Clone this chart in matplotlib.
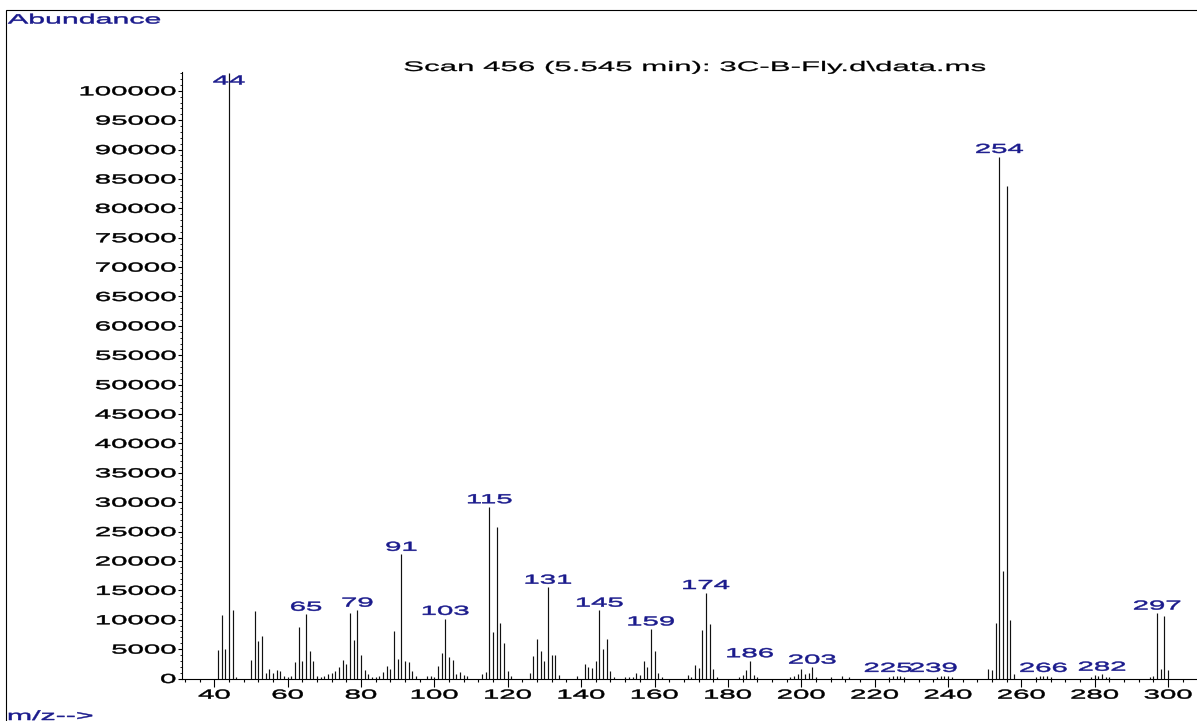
import matplotlib
matplotlib.use("Agg")
import matplotlib.pyplot as plt
import matplotlib.patheffects as pe
from matplotlib.patches import Rectangle
from matplotlib.ticker import MultipleLocator
from matplotlib.transforms import Affine2D

# спектр: m/z и интенсивности
mz = [41, 42, 43, 44, 45, 46,
      50, 51, 52, 53, 54, 55, 56, 57, 58, 59, 60, 61, 62, 63, 64, 65, 66, 67, 68, 69,
      70, 71, 72, 73, 74, 75, 76, 77, 78, 79, 80, 81, 82, 83,
      84, 85, 86, 87, 88, 89, 90, 91, 92, 93, 94, 95,
      98, 99, 100, 101, 102, 103, 104, 105, 106, 107, 108, 109,
      113, 114, 115, 116, 117, 118, 119, 120, 121,
      126, 127, 128, 129, 130, 131, 132, 133, 134,
      139, 141, 142, 143, 144, 145, 146, 147, 148, 149,
      152, 153, 154, 155, 156, 157, 158, 159, 160, 161, 162,
      169, 170, 171, 172, 173, 174, 175, 176, 177,
      183, 184, 185, 186, 187, 188,
      197, 198, 199, 200, 201, 202, 203, 204, 208, 211, 213,
      224, 225, 226, 227, 228,
      237, 238, 239, 240, 241,
      251, 252, 253, 254, 255, 256, 257, 258,
      264, 265, 266, 267, 268,
      279, 280, 281, 282, 283, 284,
      295, 296, 297, 298, 299, 300]
abundance = [4800, 10800, 5000, 103000, 11600, 200,
             3100, 11500, 6300, 7200, 1000, 1700, 900, 1400, 1300, 500, 300, 400, 2800, 8700, 3000, 10900, 4700, 3000, 500, 300,
             400, 800, 900, 1200, 2000, 3100, 2500, 11200, 6500, 11600, 4000, 1400, 700, 300,
             200, 500, 1100, 2100, 1600, 8000, 3400, 21100, 3000, 2750, 1300, 500,
             400, 400, 300, 2100, 4300, 10200, 3700, 3100, 800, 1100, 600, 500,
             800, 1100, 29200, 7900, 25800, 9400, 6000, 1300, 400,
             1000, 3800, 6800, 4600, 2900, 15500, 4000, 4000, 600,
             400, 2400, 2000, 1800, 3000, 11600, 5000, 6700, 1200, 300,
             200, 300, 300, 900, 600, 3000, 2000, 8400, 4600, 1000, 200,
             600, 200, 2300, 1800, 8200, 14600, 9300, 1700, 200,
             300, 600, 1400, 3000, 600, 300,
             300, 500, 700, 1700, 700, 900, 1900, 300, 200, 500, 200,
             300, 500, 400, 400, 300,
             300, 400, 500, 400, 300,
             1700, 1400, 9500, 88800, 18300, 83800, 9900, 700,
             300, 400, 500, 400, 300,
             300, 600, 400, 700, 300, 200,
             300, 500, 11100, 1700, 10600, 1500]

# подписанные пики
labeled = [44, 65, 79, 91, 103, 115, 131, 145, 159, 174, 186, 203, 225, 239, 254, 266, 282, 297]
# сдвиг подписей (в пикселях), где они иначе налезают
label_shift = {44: (0, -15), 225: (-5, 0), 239: (-11, 0)}

title = "Scan 456 (5.545 min): 3C-B-Fly.d\\data.ms"
navy = "#1a1a8c"
W, H = 1197, 721
SX = 2.25  # растяжение шрифта по горизонтали


class StretchX(pe.AbstractPathEffect):
    """Растягивает текст по горизонтали относительно края/центра, чуть утолщая"""
    def __init__(self, sx, anchor="center", stroke=0.35):
        super().__init__()
        self.sx = sx
        self.anchor = anchor
        self.stroke = stroke

    def draw_path(self, renderer, gc, tpath, affine, rgbFace=None):
        ext = tpath.get_extents(affine)
        if self.anchor == "left":
            x0 = ext.x0
        elif self.anchor == "right":
            x0 = ext.x1
        else:
            x0 = 0.5 * (ext.x0 + ext.x1)
        st = Affine2D().translate(-x0, 0).scale(self.sx, 1).translate(x0, 0)
        gc0 = renderer.new_gc()
        gc0.copy_properties(gc)
        gc0.set_linewidth(self.stroke)
        if rgbFace is not None:
            gc0.set_foreground(rgbFace)
        renderer.draw_path(gc0, tpath, affine + st, rgbFace)
        gc0.restore()


plt.rcParams['font.family'] = ['Liberation Sans', 'DejaVu Sans']

fig = plt.figure(figsize=(W / 100, H / 100), dpi=100)
ax = fig.add_axes([182 / W, 1 - 678.5 / H, (1196 - 182) / W, (678.5 - 72) / H])

ax.vlines(mz, 0, abundance, colors="#111111", linewidth=0.85)

ax.set_xlim(31.2, 307.6)
ax.set_ylim(0, 103200)

for s in ("top", "right"):
    ax.spines[s].set_visible(False)
for s in ("left", "bottom"):
    ax.spines[s].set_linewidth(0.8)

xt = list(range(40, 301, 20))
yt = list(range(0, 100001, 5000))
ax.set_xticks(xt, [str(v) for v in xt])
ax.set_yticks(yt, [str(v) for v in yt])
ax.xaxis.set_minor_locator(MultipleLocator(4))
ax.yaxis.set_minor_locator(MultipleLocator(1000))
ax.tick_params(axis="x", which="major", length=6, width=0.8, pad=2, labelsize=9.4)
ax.tick_params(axis="x", which="minor", length=2.5, width=0.8)
ax.tick_params(axis="y", which="major", length=3, width=0.8, pad=1.5, labelsize=9.4)
ax.tick_params(axis="y", which="minor", length=1.5, width=0.6)

for t in ax.xaxis.get_major_ticks():
    t.label1.set_path_effects([StretchX(SX, "center")])
for t in ax.yaxis.get_major_ticks():
    t.label1.set_path_effects([StretchX(SX, "right")])

# подписи пиков
lookup = dict(zip(mz, abundance))
for m in labeled:
    dx, dy = label_shift.get(m, (0, 0))
    ax.annotate(str(m), (m, lookup[m]), xytext=(dx * 0.72, 0.5 + dy * 0.72),
                textcoords="offset points", ha="center", va="bottom",
                fontsize=9.4, color=navy, annotation_clip=False,
                path_effects=[StretchX(SX, "center")])

fig.text(695 / W, 1 - 71 / H, title, ha="center", va="baseline",
         fontsize=10, color="black", path_effects=[StretchX(SX, "center", 0.2)])
fig.text(8 / W, 1 - 23.5 / H, "Abundance", ha="left", va="baseline",
         fontsize=9.7, color=navy, path_effects=[StretchX(SX, "left")])
fig.text(8 / W, 1 - 720 / H, "m/z-->", ha="left", va="baseline",
         fontsize=9.7, color=navy, path_effects=[StretchX(SX, "left")])

# рамка
fig.add_artist(Rectangle((6 / W, -0.1), 2, 1 - 10 / H + 0.1, transform=fig.transFigure,
                         fill=False, linewidth=0.8, edgecolor="black"))

fig.savefig("out.png", dpi=100)
